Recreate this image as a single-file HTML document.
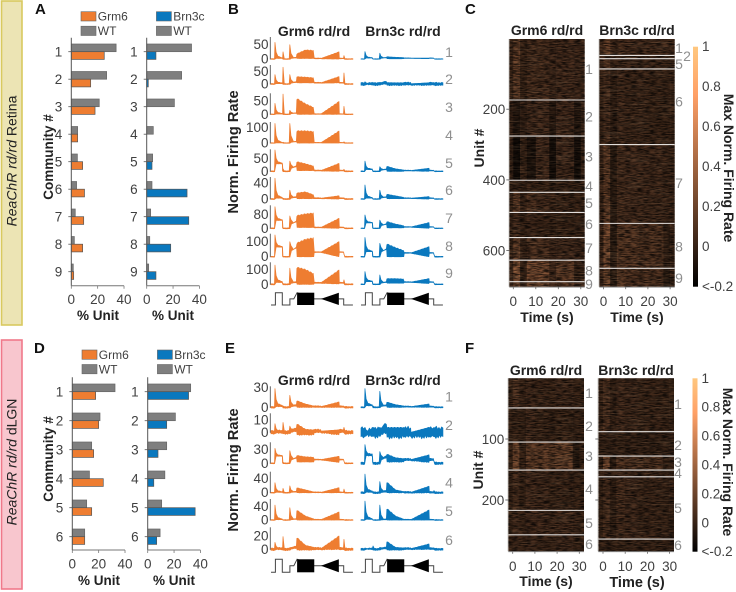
<!DOCTYPE html>
<html lang="en">
<head>
<meta charset="utf-8">
<title>ReaChR community responses</title>
<style>
html,body{margin:0;padding:0;background:#fff}
svg{display:block;font-family:"Liberation Sans",sans-serif;filter:blur(0.35px)}
.panel-letter{font-size:15px;font-weight:bold;fill:#111}
.bold-title{font-size:14px;font-weight:bold;fill:#222}
.small-title{font-size:13.5px;font-weight:bold;fill:#222}
.rate-title{font-size:14.7px;font-weight:bold;fill:#222}
</style>
</head>
<body>
<svg id="figure" xmlns="http://www.w3.org/2000/svg" width="736" height="592" viewBox="0 0 736 592">
<defs>
<linearGradient id="copperGradient" x1="0" y1="1" x2="0" y2="0">
<stop offset="0" stop-color="#000"/><stop offset="0.8" stop-color="#ffa066"/><stop offset="1" stop-color="#ffc77f"/>
</linearGradient>
<filter id="streaks" x="0" y="0" width="100%" height="100%">
<feTurbulence type="fractalNoise" baseFrequency="0.16 0.9" numOctaves="2" seed="4"/>
<feColorMatrix type="matrix" values="0 0 0 0 0  0 0 0 0 0  0 0 0 0 0  2.6 0 0 0 -0.85"/>
</filter>
<filter id="streaksLight" x="0" y="0" width="100%" height="100%">
<feTurbulence type="fractalNoise" baseFrequency="0.04 0.85" numOctaves="2" seed="11"/>
<feColorMatrix type="matrix" values="0 0 0 0 1  0 0 0 0 0.68  0 0 0 0 0.4  3 0 0 0 -1.55"/>
</filter>
</defs>
<rect width="736" height="592" fill="#fff"/>

<rect x="1.5" y="1" width="20.5" height="324" fill="#ece4b4" stroke="#d9c95f" stroke-width="1.6"/>
<text transform="translate(16.5,161) rotate(-90)" text-anchor="middle" font-size="14" fill="#222"><tspan font-style="italic">ReaChR rd/rd</tspan> Retina</text>
<rect x="1.5" y="340" width="20.5" height="249" fill="#f8c6ce" stroke="#f0798a" stroke-width="1.6"/>
<text transform="translate(16.5,462) rotate(-90)" text-anchor="middle" font-size="14" fill="#222"><tspan font-style="italic">ReaChR rd/rd</tspan> dLGN</text>

<text class="panel-letter" x="35" y="14">A</text>
<text class="panel-letter" x="228" y="14">B</text>
<text class="panel-letter" x="465" y="14">C</text>
<text class="panel-letter" x="34" y="353">D</text>
<text class="panel-letter" x="225" y="353">E</text>
<text class="panel-letter" x="465" y="353">F</text>

<text class="small-title" transform="translate(53,157) rotate(-90)" text-anchor="middle">Community #</text>
<text class="small-title" transform="translate(53,459) rotate(-90)" text-anchor="middle">Community #</text>
<text class="small-title" x="98" y="320" text-anchor="middle">% Unit</text>
<text class="small-title" x="173" y="320" text-anchor="middle">% Unit</text>
<text class="small-title" x="99" y="585" text-anchor="middle">% Unit</text>
<text class="small-title" x="174" y="585" text-anchor="middle">% Unit</text>

<text class="bold-title" x="314" y="36" text-anchor="middle">Grm6 rd/rd</text>
<text class="bold-title" x="403" y="36" text-anchor="middle">Brn3c rd/rd</text>
<text class="bold-title" x="314" y="385" text-anchor="middle">Grm6 rd/rd</text>
<text class="bold-title" x="403" y="385" text-anchor="middle">Brn3c rd/rd</text>
<text class="rate-title" transform="translate(238,152) rotate(-90)" text-anchor="middle">Norm. Firing Rate</text>
<text class="rate-title" transform="translate(238,470) rotate(-90)" text-anchor="middle">Norm. Firing Rate</text>

<text class="bold-title" x="547" y="35" text-anchor="middle">Grm6 rd/rd</text>
<text class="bold-title" x="637" y="35" text-anchor="middle">Brn3c rd/rd</text>
<text class="bold-title" x="546" y="375" text-anchor="middle">Grm6 rd/rd</text>
<text class="bold-title" x="636" y="375" text-anchor="middle">Brn3c rd/rd</text>
<text class="bold-title" transform="translate(484,148) rotate(-90)" text-anchor="middle">Unit #</text>
<text class="bold-title" transform="translate(483,470) rotate(-90)" text-anchor="middle">Unit #</text>
<text class="bold-title" x="547" y="322" text-anchor="middle">Time (s)</text>
<text class="bold-title" x="637" y="322" text-anchor="middle">Time (s)</text>
<text class="bold-title" x="546" y="586" text-anchor="middle">Time (s)</text>
<text class="bold-title" x="637" y="587" text-anchor="middle" style="font-size:14.5px">Time (s)</text>
<text class="bold-title" transform="translate(724,168) rotate(90)" text-anchor="middle">Max Norm. Firing Rate</text>
<text class="bold-title" transform="translate(723,462) rotate(90)" text-anchor="middle">Max Norm. Firing Rate</text>

<g id="bars"></g>
<g id="traces"></g>
<g id="heatmaps"></g>
</svg>

<script>
// ---- Panels A and D: percent of units per community ----
const retinaCommunities = [1,2,3,4,5,6,7,8,9];
const lgnCommunities = [1,2,3,4,5,6];
const percentTicks = [0,20,40];
const retinaGrm6WT = [34,26.8,21.2,4.8,4.6,4,3,2.3,1.5];
const retinaGrm6 = [25,14.7,18,4.8,8.6,10,9.4,8.6,1.8];
const retinaBrn3cWT = [34,26.5,21,5,4.5,4,3,2.3,1.5];
const retinaBrn3c = [7,1.2,0,0,4,30.6,31.9,18.2,7];
const lgnGrm6WT = [32.4,21,14.7,13,10.9,9.4];
const lgnGrm6 = [17.7,20,16.2,23.5,14.7,9.4];
const lgnBrn3cWT = [32.6,21,14.4,13,10.6,9.4];
const lgnBrn3c = [31,14.4,7.8,4.6,36,6.8];

// ---- Panels B and E: each row lists response features ----
// order: noise, onPeak, onSustain, offPeak, stepPeak, preChirp, chirpStart, chirpMid, chirpEnd,
//        chirpFloor, midLevel, ampTop, ampFloor, lastPeak
const retinaGrm6Traces = [
  [1,58,3,25,50,5,18,32,30,2,2,25,0,12],
  [1.5,38,3,68,38,8,30,28,25,5,5,30,5,45],
  [1,41,2,76,15,5,60,40,25,0,1,48,0,30],
  [1.5,128,2,5,128,10,80,80,75,0,2,78,0,8],
  [1.5,84,31,10,40,20,38,30,20,3,3,31,0,8],
  [1,52,3,2,22,5,15,18,10,1,2,8,0,3],
  [2,126,48,3,72,40,75,85,90,5,5,58,0,5],
  [2,142,65,3,98,60,90,115,125,0,30,98,0,3],
  [3,128,15,5,107,15,115,100,70,0,10,95,3,30]
];
const retinaBrn3cTraces = [
  [0.7,26,4,0,20,5,8,6,5,1,3,3,1,1],
  [5,9,2,5,7,5,6,5,5,-5,1,5,-5,4],
  null,
  null,
  [1.2,40,8,2,18,8,20,10,5,0,3,12,0,1],
  [0.8,35,3,0,22,5,12,8,4,1,2,6,0,1],
  [1.5,78,33,2,48,25,40,25,15,3,8,33,0,3],
  [2,126,35,2,87,50,85,60,40,0,25,65,0,3],
  [2,85,20,2,62,15,38,38,35,8,15,38,5,3]
];
const lgnGrm6Traces = [
  [1,28,2,2,18,3,10,5,2,0,1,8,0,1],
  [1.2,7,0.5,8,5,2,7,2.5,2,-2,1,2,-2,4],
  [0.8,32,16,2,27,12,17,14,13,3,8,15,2,2],
  [1,28,2,12,19,3,14,8,2,0,1,14,0,10],
  [1,45,2,1,37,3,30,12,3,0,1,24,0,1],
  [1.5,10.5,1,19,2.5,3,18,6,3,-1,1,20,0,15]
];
const lgnBrn3cTraces = [
  [0.7,28,3,2,24,3,8,4,2,0,1,5,0,1],
  [3.5,4,0.5,4,4,3,4,4,4,-4,0,4,-4,4],
  [2,40,18,2,25,14,20,12,10,3,8,18,2,3],
  [2,52,3,3,31,4,30,8,3,0,1,18,0,6],
  [1,57,3,1,45,2,35,12,2,0,1,30,0,1],
  [1.2,2,1,5,3,2,12,3,2,-1,1,8,0,2]
];
const retinaTraceTicks = [50,50,50,100,50,40,80,100,100];
const lgnTraceTicks = [30,10,30,40,40,20];
const stimulusTimes = [0,1.7,1.7,4.4,4.4,7.4,7.4,8.9,10.2,16.9,19.5,28.4,28.4,32];
const stimulusLevels = [0,0,1,1,0,0,0.5,0.5,1,0.5,0.5,0.5,0,0];

// ---- Panels C and F: mean normalised rate per community over stimulus epochs ----
const heatTimeEdges = [-2,0,3,6,10,16,19,27,30,32.5];
const heatTimeTicks = [0,10,20,30];
const retinaUnitTicks = [200,400,600];
const lgnUnitTicks = [100,200];
const colorbarTicks = ['1','0.8','0.6','0.4','0.2','0','<-0.2'];
const retinaGrm6Bounds = [0,174,276,401,435,492,563,627,688,702];
const retinaBrn3cBounds = [0,48,57,86,300,523,650,702];
const retinaGrm6Labels = [1,2,3,4,5,6,7,8,9];
const retinaBrn3cLabels = [1,2,5,6,7,8,9];
const retinaGrm6Heat = [
  [.05,.2,.04,.1,.1,.06,.08,.06,.06],
  [.03,-.04,.02,.08,.08,-.02,.08,-.04,.04],
  [.02,-.12,.04,-.07,.08,-.1,.06,-.1,.03],
  [.03,.03,.02,.05,.04,.02,.03,.02,.02],
  [.04,.2,.05,.12,.08,.05,.05,.04,.04],
  [.03,.08,.03,.06,.05,.03,.04,.03,.03],
  [.04,.2,.03,.12,.12,.06,.08,.06,.04],
  [.06,.33,.04,.26,.26,.08,.18,.04,.06],
  [.06,.28,.06,.2,.22,.08,.16,.06,.06]
];
const retinaBrn3cHeat = [
  [.07,.2,.1,.1,.08,.08,.08,.08,.08],
  [.04,.04,.04,.04,.04,.04,.04,.04,.04],
  [.05,.18,.05,.07,.06,.05,.05,.04,.04],
  [.04,.1,.01,.07,.05,.05,.04,.04,.04],
  [.05,.2,-.01,.1,.08,.07,.07,.05,.05],
  [.05,.28,-.01,.16,.15,.1,.13,.01,.05],
  [.05,.22,-.01,.18,.14,.1,.12,-.01,.05]
];
const lgnGrm6Bounds = [0,49,105,151,217,257,284];
const lgnBrn3cBounds = [0,88,128,151,162,264,284];
const lgnLabels = [1,2,3,4,5,6];
const lgnGrm6Heat = [
  [.04,.12,.05,.08,.05,.04,.06,.05,.04],
  [.03,.05,.03,.08,.04,.03,.04,.03,.03],
  [.04,.28,.04,.18,.2,.16,.2,-.01,.04],
  [.03,.1,.04,.08,.06,.04,.05,.04,.03],
  [.04,.08,.04,.06,.08,.06,.08,.06,.04],
  [.04,.08,.04,.06,.05,.04,.06,.04,.04]
];
const lgnBrn3cHeat = [
  [.05,.12,.03,.08,.06,.04,.05,.04,.04],
  [.03,.03,.02,.04,.02,.02,.02,.02,.02],
  [.04,.28,-.01,.16,.12,.1,.12,.04,.04],
  [.04,.08,.04,.08,.05,.04,.05,.04,.04],
  [.04,.1,.01,.1,.06,.04,.05,.03,.03],
  [.03,.03,.03,.04,.03,.03,.03,.03,.03]
];

const NS = 'http://www.w3.org/2000/svg';
const ORANGE = '#ee7d31', BLUE = '#0a78be', GREY = '#7f7f7f', INK = '#404040', SOFT = '#8f8f8f';
const noiseShape = [.5,-.3,.7,-.5,.2,-.7,.4,-.2];

function mk(tag, attrs, parent) {
  const el = document.createElementNS(NS, tag);
  for (const k in attrs) el.setAttribute(k, attrs[k]);
  parent.appendChild(el);
  return el;
}
function txt(str, x, y, size, fill, anchor, parent) {
  const el = mk('text', {x: x, y: y, 'font-size': size, fill: fill, 'text-anchor': anchor, 'dominant-baseline': 'central'}, parent);
  el.textContent = str;
  return el;
}

// ---------- bars ----------
function barPanel(parent, cfg) {
  const xs = v => cfg.x0 + v * cfg.pxPerPct;
  const ys = i => cfg.yFirst + i * cfg.step;
  const g = mk('g', {}, parent);
  
  
  cfg.categories.forEach((c, i) => {
    const wt = mk('rect', {x: xs(0), y: ys(i) - cfg.barH, width: xs(cfg.wt[i]) - xs(0), height: cfg.barH, fill: GREY, stroke: '#666', 'stroke-width': 0.7}, g);
    
    
    const mut = mk('rect', {x: xs(0), y: ys(i), width: xs(cfg.mutant[i]) - xs(0), height: cfg.barH, fill: cfg.color, stroke: '#555', 'stroke-width': 0.7}, g);
    
    
    const tick = mk('line', {x1: xs(0) - 3, x2: xs(0), y1: ys(i), y2: ys(i), stroke: '#555', 'stroke-width': 0.8}, g);
    
    
    const lab = txt(String(c), xs(0) - 9, ys(i) + 0.5, 13.5, INK, 'end', g);
    
    
  });
  const ay = mk('line', {x1: xs(0), x2: xs(0), y1: cfg.top, y2: cfg.bottom, stroke: '#555', 'stroke-width': 1}, g);
  
  
  const ax = mk('line', {x1: xs(0), x2: xs(40), y1: cfg.bottom, y2: cfg.bottom, stroke: '#777', 'stroke-width': 1}, g);
  
  
  percentTicks.forEach(t => {
    const tk = mk('line', {x1: xs(t), x2: xs(t), y1: cfg.bottom, y2: cfg.bottom + 3, stroke: '#777', 'stroke-width': 0.8}, g);
    
    
    const lb = txt(String(t), xs(t), cfg.bottom + 14, 13.5, INK, 'middle', g);
    
    
  });
  // legend
  [[cfg.legendName, cfg.color, cfg.legendY], ['WT', GREY, cfg.legendY + 14.5]].forEach(e => {
    const sw = mk('rect', {x: xs(0) + 9.7, y: e[2], width: 15, height: 9.3, fill: e[1], stroke: '#666', 'stroke-width': 0.6}, g);
    
    
    const lt = txt(e[0], xs(0) + 26.5, e[2] + 5, 12, INK, 'start', g);
    
    
  });
}
const barHost = document.getElementById('bars');
barPanel(barHost, {x0: 71.3, pxPerPct: 1.318, yFirst: 51.7, step: 27.5, barH: 7.7, top: 37.7, bottom: 285.7, categories: retinaCommunities, wt: retinaGrm6WT, mutant: retinaGrm6, color: ORANGE, legendName: 'Grm6', legendY: 11.7});
barPanel(barHost, {x0: 146.7, pxPerPct: 1.318, yFirst: 51.7, step: 27.5, barH: 7.7, top: 37.7, bottom: 285.7, categories: retinaCommunities, wt: retinaBrn3cWT, mutant: retinaBrn3c, color: BLUE, legendName: 'Brn3c', legendY: 11.7});
barPanel(barHost, {x0: 72.3, pxPerPct: 1.318, yFirst: 391.7, step: 29, barH: 7.7, top: 377.3, bottom: 550, categories: lgnCommunities, wt: lgnGrm6WT, mutant: lgnGrm6, color: ORANGE, legendName: 'Grm6', legendY: 350});
barPanel(barHost, {x0: 147.7, pxPerPct: 1.318, yFirst: 391.7, step: 29, barH: 7.7, top: 377.3, bottom: 550, categories: lgnCommunities, wt: lgnBrn3cWT, mutant: lgnBrn3c, color: BLUE, legendName: 'Brn3c', legendY: 350});

// ---------- traces ----------
function interpolate(a, b, c, t) { // a at 0, b at .5, c at 1
  return t < 0.5 ? a + (b - a) * t * 2 : b + (c - b) * (t - 0.5) * 2;
}
function roughen(points, n) { // adds the sampled-noise look along flat stretches of an envelope
  const out = [];
  let k = 0;
  points.forEach((p, i) => {
    out.push(p);
    const q = points[i + 1];
    if (!q) return;
    const dt = q[0] - p[0];
    const steps = Math.floor(Math.abs(dt) / 0.45);
    for (let s = 1; s < steps; s++, k++) {
      const f = s / steps;
      out.push([p[0] + dt * f, p[1] + (q[1] - p[1]) * f + noiseShape[k % noiseShape.length] * n]);
    }
  });
  return out;
}
function envelope(f) {
  const [n, on, s, off, step, pre, c0, c1, c2, floor, mid, ampTop, ampFloor, last] = f;
  const head = [[0,n],[1.35,n],[1.55,on],[2,s+(on-s)*.38],[2.7,s+(on-s)*.12],[4.4,s+n],[4.5,n],[4.7,Math.max(off,n)],[5.2,n],[7.1,n],[7.35,step],[7.8,pre+(step-pre)*.32],[8.8,pre*.75+n],[9.9,pre+n]];
  const chirp = [];
  const zig = 0.4;
  let i = 0;
  for (let t = 10.1; t < 16.8; t += zig, i++) {
    const v = interpolate(c0, c1, c2, (t - 10.1) / 6.7);
    chirp.push([t, i % 3 === 0 ? floor + (v - floor) * 0.92 : v]);
  }
  const gap = [[16.9, mid + n], [19.4, mid + n]];
  const amp = [];
  i = 0;
  for (let t = 19.5; t < 26.5; t += zig, i++) {
    const v = mid + (ampTop - mid) * Math.max(0, (t - 19.5) / 7);
    amp.push([t, i % 3 === 0 ? mid + (v - mid) * 0.92 : v]);
  }
  const tail = [[26.55, ampTop], [26.7, mid + n], [28.3, mid + n], [28.5, Math.max(last, mid * 0.5)], [28.9, n], [32, n]];
  const up = roughen(head, n * 0.6).concat(chirp, roughen(gap, n * 0.6), amp, roughen(tail, n * 0.6));
  const low = [[32,-n],[28.8,-n],[28.4,mid-n],[26.7,mid-n],[26.5,ampFloor],[19.5,mid-n],[16.9,mid-n],[16.7,floor],[10.2,floor],[10,pre-n],[8,pre*.7-n],[7.4,-n],[4.7,-n],[4.5,s-n],[2,s-n],[1.4,-n],[0,-n]];
  return up.concat(roughen(low, n * 0.6));
}
function tracePanel(parent, cfg) {
  cfg.rows.forEach((row, r) => {
    const zero = row[0], tickPx = row[1], axisLen = row[2];
    const tickValue = cfg.ticks[r];
    const ys = v => zero - v * tickPx / tickValue;
    const xg = t => cfg.xStart + t * 2.56;
    const xb = t => cfg.xStart + 90 + t * 2.56;
    const axis = mk('line', {x1: cfg.xStart - 0.7, x2: cfg.xStart - 0.7, y1: zero + 0.5, y2: zero - axisLen, stroke: '#555', 'stroke-width': 0.9}, parent);
    
    
    const zeroLabel = txt('0', cfg.xStart - 2.5, zero, 13.5, INK, 'end', parent);
    
    
    const topLabel = txt(String(tickValue), cfg.xStart - 2.5, ys(tickValue), 13.5, INK, 'end', parent);
    
    
    [[cfg.grm6[r], xg, ORANGE], [cfg.brn3c[r], xb, BLUE]].forEach(s => {
      if (!s[0]) return;
      const d = envelope(s[0]).map((p, i) => (i ? 'L' : 'M') + s[1](p[0]).toFixed(2) + ' ' + ys(p[1]).toFixed(2)).join('') + 'Z';
      const tr = mk('path', {d: d, fill: s[2], stroke: s[2], 'stroke-width': 0.7, 'stroke-linejoin': 'round'}, parent);
      
      
    });
    const lab = txt(String(r + 1), 449, cfg.labelY[r], 14, SOFT, 'middle', parent);
    
    
  });
  // stimulus
  [0, 90].forEach(off => {
    const xs = t => cfg.xStart + off + t * 2.56;
    const ys = l => cfg.stimBottom - l * (cfg.stimBottom - cfg.stimTop);
    const pts = stimulusTimes.map((t, i) => xs(t).toFixed(1) + ',' + ys(stimulusLevels[i]).toFixed(1)).join(' ');
    const line = mk('polyline', {points: pts, fill: 'none', stroke: '#444', 'stroke-width': 1}, parent);
    
    
    const box = mk('rect', {x: xs(10.2), y: ys(1), width: xs(16.9) - xs(10.2), height: ys(0) - ys(1), fill: '#000'}, parent);
    
    
    const tri = mk('polygon', {points: xs(19.5) + ',' + ys(.5) + ' ' + xs(26.5) + ',' + ys(1) + ' ' + xs(26.5) + ',' + ys(0), fill: '#000'}, parent);
    
    
  });
}
const traceHost = document.getElementById('traces');
tracePanel(traceHost, {
  xStart: 271, grm6: retinaGrm6Traces, brn3c: retinaBrn3cTraces, ticks: retinaTraceTicks,
  rows: [[59,14.3,22],[84,12.3,19],[114.3,13.3,21],[143,15.3,21],[171.3,12.7,22],[199,16,22],[228.3,13.7,23],[256.7,15.3,23],[284.3,15,22]],
  labelY: [52,79,107,135,163,190,218,246,273], stimTop: 292.7, stimBottom: 305
});
tracePanel(traceHost, {
  xStart: 271, grm6: lgnGrm6Traces, brn3c: lgnBrn3cTraces, ticks: lgnTraceTicks,
  rows: [[407.3,20,21],[432.3,12.3,19],[463.3,14,21],[492.7,14.3,21],[520,13.3,21],[549.3,13.3,22]],
  labelY: [396.7,425,453,482.3,511,540], stimTop: 559.3, stimBottom: 572.3
});

// ---------- heatmaps ----------
function copper(v) {
  const x = Math.max(0, Math.min(1, (v + 0.2) / 1.2));
  return 'rgb(' + Math.round(255 * Math.min(1, 1.25 * x)) + ',' + Math.round(199 * x) + ',' + Math.round(127 * x) + ')';
}
function heatmap(parent, cfg) {
  const xs = t => cfg.x0 + cfg.pxPerSec * t;
  const ys = u => cfg.y0 + cfg.pxPerUnit * u;
  const left = cfg.left, right = cfg.left + cfg.width;
  const g = mk('g', {}, parent);
  
  
  const clipId = 'clip' + Math.round(left) + Math.round(cfg.top);
  const clip = mk('clipPath', {id: clipId}, g);
  mk('rect', {x: left, y: cfg.top, width: cfg.width, height: cfg.bottom - cfg.top}, clip);
  const body = mk('g', {'clip-path': 'url(#' + clipId + ')'}, g);
  cfg.values.forEach((row, i) => {
    row.forEach((v, j) => {
      const c = mk('rect', {x: xs(heatTimeEdges[j]), y: ys(cfg.bounds[i]), width: xs(heatTimeEdges[j + 1]) - xs(heatTimeEdges[j]) + 0.3, height: ys(cfg.bounds[i + 1]) - ys(cfg.bounds[i]) + 0.3, fill: copper(v)}, body);
      
      
    });
  });
  const tex = mk('rect', {x: left, y: cfg.top, width: cfg.width, height: cfg.bottom - cfg.top, filter: 'url(#streaks)', opacity: 0.75}, body);
  
  
  const tex2 = mk('rect', {x: left, y: cfg.top, width: cfg.width, height: cfg.bottom - cfg.top, filter: 'url(#streaksLight)', opacity: 0.16}, body);
  
  
  cfg.bounds.slice(1, -1).forEach(b => {
    const s = mk('line', {x1: left, x2: right, y1: ys(b), y2: ys(b), stroke: '#e2dedb', 'stroke-width': 1.1}, g);
    
    
  });
  const yAxis = mk('line', {x1: left - 0.3, x2: left - 0.3, y1: cfg.top, y2: cfg.bottom, stroke: '#b0aaa5', 'stroke-width': 0.6}, g);
  
  
  const xAxis = mk('line', {x1: left, x2: right, y1: cfg.bottom + 0.4, y2: cfg.bottom + 0.4, stroke: '#777', 'stroke-width': 0.8}, g);
  
  
  heatTimeTicks.forEach(t => {
    const tk = mk('line', {x1: xs(t), x2: xs(t), y1: cfg.bottom, y2: cfg.bottom + 2.5, stroke: '#666', 'stroke-width': 0.8}, g);
    
    
    const lb = txt(String(t), xs(t), cfg.bottom + 15, 13.5, INK, 'middle', g);
    
    
  });
  cfg.unitTicks.forEach(u => {
    const tk = mk('line', {x1: left - 3, x2: left, y1: ys(u), y2: ys(u), stroke: '#555', 'stroke-width': 0.8}, g);
    
    
    if (cfg.showUnitLabels) {
      const lb = txt(String(u), left - 4, ys(u) + 0.5, 13.5, INK, 'end', g);
      
      
    }
  });
  cfg.labels.forEach((l, i) => {
    const lb = txt(String(l), cfg.labelX[i], cfg.labelY[i], 14, SOFT, 'middle', g);
    
    
  });
}
function colorbar(parent, x, top, bottom) {
  const bar = mk('rect', {x: x, y: top, width: 5, height: bottom - top, fill: 'url(#copperGradient)'}, parent);
  
  
  colorbarTicks.forEach((t, i) => {
    const y = top + i * (bottom - top) / (colorbarTicks.length - 1);
    const lb = txt(t, x + 9, y, 13.5, INK, 'start', parent);
    
    
  });
}
const heatHost = document.getElementById('heatmaps');
const cLabelX1 = retinaGrm6Labels.map(() => 589);
heatmap(heatHost, {left: 509.3, width: 75.4, top: 39, bottom: 286.7, x0: 513.3, pxPerSec: 2.25, y0: 38.5, pxPerUnit: 0.3535, bounds: retinaGrm6Bounds, values: retinaGrm6Heat, unitTicks: retinaUnitTicks, showUnitLabels: true, labels: retinaGrm6Labels, labelX: cLabelX1, labelY: [69,116.7,156.7,186,203,224,248,270.7,284]});
heatmap(heatHost, {left: 599.3, width: 75.4, top: 39, bottom: 286.7, x0: 603.5, pxPerSec: 2.22, y0: 38.5, pxPerUnit: 0.3535, bounds: retinaBrn3cBounds, values: retinaBrn3cHeat, unitTicks: [], showUnitLabels: false, labels: retinaBrn3cLabels, labelX: [679,687,679,679,679,679,679], labelY: [48,56,64,101.7,183,246.7,278]});
heatmap(heatHost, {left: 508.3, width: 75.7, top: 378.3, bottom: 551.3, x0: 512.7, pxPerSec: 2.22, y0: 378, pxPerUnit: 0.61, bounds: lgnGrm6Bounds, values: lgnGrm6Heat, unitTicks: lgnUnitTicks, showUnitLabels: true, labels: lgnLabels, labelX: [589,589,589,589,589,589], labelY: [393,426,456,489,523,544]});
heatmap(heatHost, {left: 598.3, width: 75.7, top: 378.3, bottom: 551.3, x0: 603, pxPerSec: 2.22, y0: 378, pxPerUnit: 0.61, bounds: lgnBrn3cBounds, values: lgnBrn3cHeat, unitTicks: lgnUnitTicks, showUnitLabels: false, labels: lgnLabels, labelX: [678,678,678,678,678,678], labelY: [404,445,462,473,508,545]});
colorbar(heatHost, 693, 46.7, 286.7);
colorbar(heatHost, 692.5, 378.3, 551.7);
</script>
</body>
</html>
